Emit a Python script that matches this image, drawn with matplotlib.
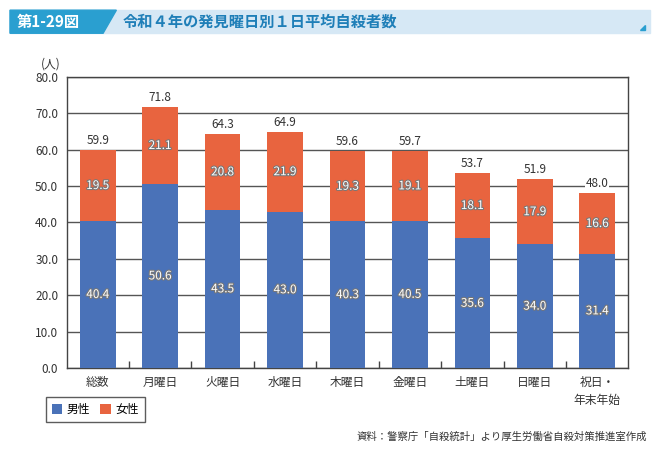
import matplotlib.pyplot as plt
import matplotlib.patheffects as pe
from matplotlib.patches import Polygon, Rectangle

plt.rcParams['font.family'] = ['Noto Sans CJK JP', 'DejaVu Sans']

# データ
days = ["総数", "月曜日", "火曜日", "水曜日", "木曜日", "金曜日", "土曜日", "日曜日", "祝日・\n年末年始"]
male = [40.4, 50.6, 43.5, 43.0, 40.3, 40.5, 35.6, 34.0, 31.4]
female = [19.5, 21.1, 20.8, 21.9, 19.3, 19.1, 18.1, 17.9, 16.6]
total = [59.9, 71.8, 64.3, 64.9, 59.6, 59.7, 53.7, 51.9, 48.0]

blue = "#4a72b8"
orange = "#e8643f"

fig = plt.figure(figsize=(6.65, 4.62), dpi=100)
ax = fig.add_axes([0.1, 0.2035, 0.845, 0.63])

x = list(range(len(days)))
ax.bar(x, male, width=0.57, color=blue, label="男性", zorder=3)
ax.bar(x, female, width=0.57, bottom=male, color=orange, label="女性", zorder=3)

outline = [pe.withStroke(linewidth=1.5, foreground="#777777")]
for i in x:
    ax.text(i, male[i] / 2, f"{male[i]:.1f}", ha="center", va="center",
            color="white", fontsize=8.5, path_effects=outline, zorder=4)
    ax.text(i, male[i] + female[i] / 2, f"{female[i]:.1f}", ha="center", va="center",
            color="white", fontsize=8.5, path_effects=outline, zorder=4)
    ax.text(i, total[i] + 0.8, f"{total[i]:.1f}", ha="center", va="bottom",
            color="#333333", fontsize=8.5, zorder=4,
            bbox=dict(facecolor="white", edgecolor="none", pad=0.5))

ax.set_xlim(-0.5, 8.5)
ax.set_ylim(0, 80)
ax.set_yticks([i * 10 for i in range(9)])
ax.set_yticklabels([f"{i * 10:.1f}" for i in range(9)], fontsize=8.5, color="#333333")
ax.yaxis.grid(True, color="#555555", linewidth=1, zorder=1)
ax.tick_params(axis="y", length=0, pad=6)

ax.set_xticks(x)
ax.set_xticklabels(days, fontsize=8.5, color="#333333", linespacing=1.5, va="top")
ax.tick_params(axis="x", which="major", length=0, pad=6)
ax.set_xticks([i + 0.5 for i in range(8)], minor=True)
ax.tick_params(axis="x", which="minor", direction="in", length=5, width=1, color="#444444")

for s in ax.spines.values():
    s.set_color("#444444")
    s.set_linewidth(1)

fig.text(0.062, 0.862, "(人)", fontsize=8.5, color="#333333", ha="left", va="center")

# 凡例
leg = ax.legend(loc="upper left", bbox_to_anchor=(-0.037, -0.1), ncol=2, fontsize=8.5,
                frameon=True, fancybox=False, edgecolor="#333333", handlelength=0.9,
                handleheight=0.9, columnspacing=0.8, handletextpad=0.4, borderpad=0.5,
                borderaxespad=0)
leg.get_frame().set_linewidth(1)

# タイトル帯
fig.patches.append(Rectangle((0.015, 0.928), 0.963, 0.05, transform=fig.transFigure,
                             color="#d6e8f5", zorder=0))
fig.patches.append(Polygon([(0.015, 0.928), (0.155, 0.928), (0.175, 0.978), (0.015, 0.978)],
                           closed=True, transform=fig.transFigure, color="#2a9fd0", zorder=1))
fig.patches.append(Polygon([(0.963, 0.936), (0.970, 0.936), (0.970, 0.946)],
                           closed=True, transform=fig.transFigure, color="#2a9fd0", zorder=1))
fig.text(0.025, 0.953, "第1-29図", fontsize=11, fontweight="bold", color="white",
         ha="left", va="center")
fig.text(0.185, 0.953, "令和４年の発見曜日別１日平均自殺者数", fontsize=11, fontweight="bold",
         color="#1f7fb8", ha="left", va="center")

fig.text(0.973, 0.054, "資料：警察庁「自殺統計」より厚生労働省自殺対策推進室作成", fontsize=7.5,
         color="#333333", ha="right", va="center")

fig.savefig("out.png", dpi=100)
